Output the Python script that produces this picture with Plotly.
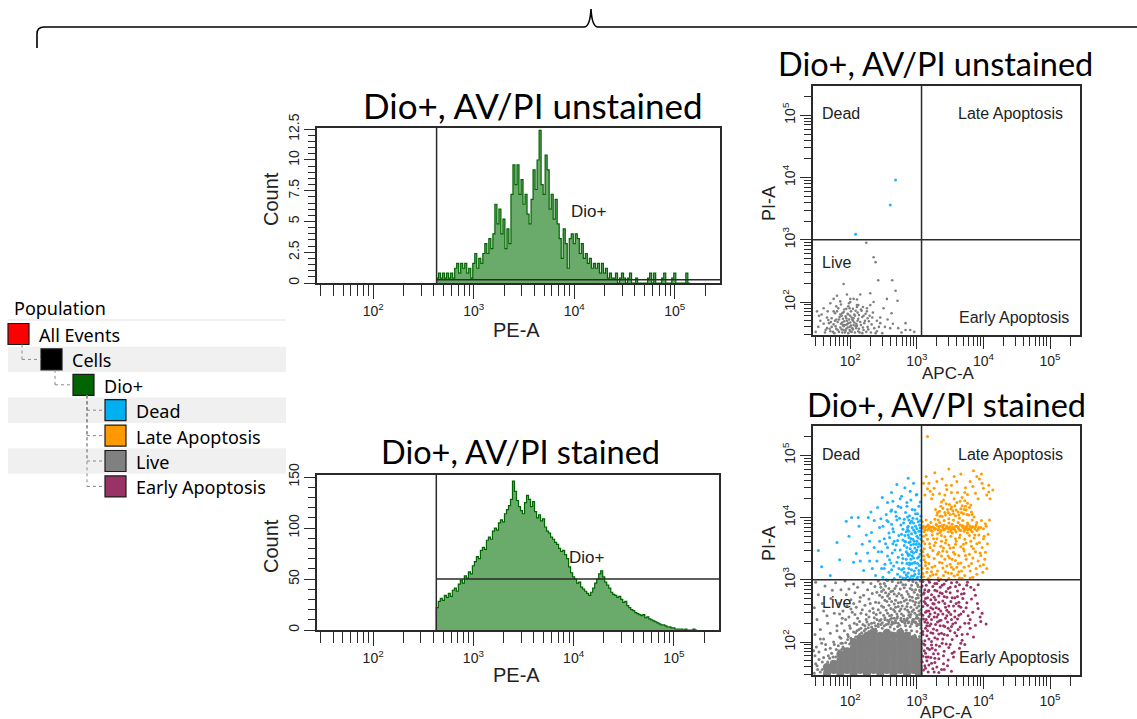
import math
import plotly.graph_objects as go

W, H = 1137, 719


def PX(x):
    return x / W


def PY(y):
    return 1 - y / H


# ---------------- data ----------------
HIST_START = 2.63          # log10 of first histogram bin edge (PE-A)
HIST_STEP = 0.02           # bin width in log10 units
HIST_GATE = 2.63           # log10 position of the Dio+ gate
UNSTAINED_GATE_Y = 0.27
STAINED_GATE_Y = 50
QUAD_X = 3.07              # log10 APC-A quadrant split
QUAD_Y = 3.0               # log10 PI-A quadrant split

unstained_counts = [
    0.4, 0.8, 0.4, 0.8, 0.4, 0.8, 0.4, 0.8, 0.4, 1.2, 1.6, 0.8, 1.6, 1.2, 1.6, 0.8,
    1.2, 0.4, 1.6, 2.4, 1.2, 2.0, 1.6, 2.4, 3.2, 2.4, 3.6, 2.8, 4.0, 6.4, 4.8, 6.0,
    4.0, 5.2, 2.8, 4.4, 3.2, 7.2, 9.6, 8.0, 9.6, 7.2, 8.4, 6.4, 7.2, 5.6, 4.8, 6.8,
    9.2, 7.6, 10.0, 12.4, 8.0, 7.2, 10.4, 9.2, 6.0, 7.2, 5.2, 6.8, 4.8, 3.6, 2.0, 4.4,
    3.2, 1.2, 3.6, 4.0, 3.2, 4.0, 3.6, 2.4, 3.2, 2.0, 2.4, 1.6, 2.0, 1.2, 1.6, 1.2,
    1.6, 0.8, 1.6, 0.8, 1.2, 0.4, 0.8, 0.4, 0.4, 0.8, 0.0, 0.4, 0.8, 0.4, 0.0, 0.4,
    0.8, 0.0, 0.0, 0.4, 0.0, 0.0, 0.0, 0.0, 0.0, 0.4, 0.8, 0.0, 0.8, 0.0, 0.0, 0.0,
    0.4, 0.8, 0.0, 0.0, 0.0, 0.4, 0.8, 0.0, 0.0, 0.0, 0.0, 0.0, 0.8, 0.0,
]

stained_counts = [
    22, 28, 31, 29, 34, 32, 36, 33, 39, 41, 38, 45, 49, 46, 53, 51, 57, 55, 63, 67,
    72, 70, 78, 81, 79, 88, 91, 89, 97, 100, 98, 105, 108, 106, 114, 118, 122, 128, 146, 136,
    127, 121, 117, 114, 125, 132, 128, 121, 126, 116, 110, 113, 107, 109, 101, 97, 95, 91, 89, 86,
    84, 80, 77, 78, 74, 70, 62, 56, 52, 50, 46, 47, 42, 40, 38, 36, 34, 37, 41, 46,
    50, 55, 58, 52, 47, 44, 41, 37, 35, 34, 32, 33, 30, 27, 28, 24, 22, 20, 19, 17,
    16, 15, 14, 15, 12, 13, 11, 10, 9, 8, 7, 6, 5, 5, 4, 3, 3, 2, 2, 1,
    1, 1, 1, 0, 1, 0, 0, 0, 1, 0,
]

# scatter events, (log10 APC-A x100, log10 PI-A x100)
top_live = [
    (224, 295), (235, 272), (238, 264), (242, 235), (263, 235), (268, 218), (271, 202), (190, 229),
    (230, 214), (215, 212), (180, 210), (200, 200), (170, 198), (160, 190), (150, 185), (255, 205),
    (250, 190), (262, 182), (245, 175), (272, 158), (283, 166), (290, 155), (260, 158), (248, 150),
    (210, 195), (225, 190), (235, 200), (205, 205), (175, 185), (155, 170), (152, 160), (165, 175),
    (162, 151), (170, 153), (176, 150), (183, 152), (188, 151), (193, 154), (197, 150), (202, 152),
    (207, 151), (212, 153), (218, 150), (224, 152), (231, 151), (240, 153),
    (165, 158), (172, 160), (179, 157), (185, 159), (190, 161), (194, 157), (199, 160), (203, 158),
    (208, 161), (213, 157), (219, 159), (226, 160), (236, 158),
    (168, 166), (175, 164), (181, 168), (186, 165), (191, 169), (195, 164), (200, 167), (204, 170),
    (209, 165), (215, 168), (221, 166), (228, 169),
    (172, 174), (179, 172), (184, 176), (189, 173), (193, 177), (198, 172), (202, 175), (207, 178),
    (212, 173), (218, 176), (226, 174),
    (177, 182), (185, 180), (190, 184), (196, 181), (201, 185), (206, 180), (211, 183), (217, 186),
    (223, 181), (182, 190), (191, 188), (197, 193), (204, 189), (210, 192), (216, 188), (198, 198),
    (186, 196), (192, 163), (197, 166), (201, 162), (195, 170), (199, 155), (205, 163), (190, 155),
    (188, 167), (203, 172), (209, 158), (296, 152), (283, 155), (277, 151),
    (163, 155), (169, 157), (174, 152), (178, 161), (181, 155), (187, 156), (189, 163), (192, 151),
    (196, 159), (200, 153), (204, 156), (206, 167), (210, 162), (214, 151), (216, 163), (220, 155),
    (222, 170), (227, 156), (232, 164), (238, 150), (243, 160), (167, 171), (171, 168), (177, 170),
    (183, 172), (187, 178), (194, 174), (197, 180), (200, 178), (205, 174), (211, 170), (213, 179),
    (220, 178), (225, 185), (229, 178), (234, 183), (180, 185), (188, 182), (194, 189), (199, 190),
    (208, 186), (212, 195), (219, 192), (179, 193), (185, 201), (200, 205), (195, 212), (240, 170),
    (245, 166), (256, 172), (264, 165), (252, 160), (233, 175), (210, 204), (230, 195), (175, 205),
    (160, 165), (157, 180), (166, 185), (148, 152), (153, 178),
]
top_dead = [(268, 396), (260, 356), (208, 309)]

bottom_live_core = [
    (165, 150), (165, 160), (175, 155), (175, 165),
    (185, 150), (185, 160), (185, 170), (185, 180),
    (195, 155), (195, 165), (195, 175), (195, 185),
    (205, 150), (205, 160), (205, 170), (205, 180), (205, 190), (205, 200),
    (215, 155), (215, 165), (215, 175), (215, 185), (215, 195), (215, 205),
    (225, 150), (225, 160), (225, 170), (225, 180), (225, 190), (225, 200), (225, 210),
    (235, 155), (235, 165), (235, 175), (235, 185), (235, 195), (235, 205), (235, 215),
    (245, 150), (245, 160), (245, 170), (245, 180), (245, 190), (245, 200), (245, 210),
    (255, 155), (255, 165), (255, 175), (255, 185), (255, 195), (255, 205), (255, 215),
    (265, 150), (265, 160), (265, 170), (265, 180), (265, 190), (265, 200), (265, 210),
    (275, 155), (275, 165), (275, 175), (275, 185), (275, 195), (275, 205), (275, 215),
    (285, 150), (285, 160), (285, 170), (285, 180), (285, 190), (285, 200), (285, 210),
    (295, 155), (295, 165), (295, 175), (295, 185), (295, 195), (295, 205),
    (303, 150), (303, 160), (303, 170), (303, 180), (303, 190), (303, 200),
]
bottom_live = [
    (242, 298), (251, 294), (263, 297), (276, 296), (288, 299), (299, 295), (305, 298),
    (246, 288), (258, 286), (269, 290), (281, 287), (292, 291), (302, 289),
    (240, 280), (253, 279), (264, 282), (273, 278), (285, 281), (296, 280), (304, 283),
    (248, 272), (259, 270), (270, 274), (279, 271), (289, 273), (299, 270), (306, 275),
    (243, 263), (255, 265), (266, 261), (276, 264), (286, 262), (294, 266), (303, 263),
    (250, 256), (261, 254), (272, 257), (282, 253), (291, 256), (300, 255), (306, 252),
    (245, 247), (256, 246), (267, 249), (277, 245), (288, 248), (297, 246), (304, 244),
    (252, 239), (262, 238), (271, 241), (281, 237), (290, 240), (299, 238), (306, 236),
    (248, 231), (258, 232), (268, 234), (279, 233), (287, 231), (296, 232), (305, 230),
    (258, 277), (284, 268), (268, 267), (293, 284), (247, 281), (301, 276), (274, 250), (262, 243),
    (288, 243), (297, 260), (279, 292), (253, 290), (265, 230), (283, 226), (299, 230), (276, 238),
    (192, 298), (205, 293), (219, 296), (231, 294), (198, 285), (211, 288), (226, 284), (237, 289),
    (194, 276), (207, 279), (220, 275), (233, 278), (201, 268), (214, 265), (228, 269), (238, 264),
    (195, 258), (209, 256), (222, 259), (234, 254), (203, 248), (216, 246), (229, 250), (239, 244),
    (198, 240), (211, 238), (224, 236), (236, 239), (206, 230), (219, 228), (232, 230),
    (200, 222), (213, 220), (227, 223), (238, 226), (196, 212), (208, 215), (221, 218), (234, 221),
    (215, 272), (230, 262), (205, 262), (224, 244), (189, 250),
    (148, 296), (162, 290), (178, 295), (186, 284), (152, 276), (171, 270), (183, 262),
    (146, 255), (160, 250), (176, 246), (188, 238), (150, 236), (166, 230), (180, 226),
    (155, 220), (170, 214), (184, 208), (147, 212), (160, 205), (175, 200), (188, 198),
    (158, 262), (173, 283), (165, 242),
    (146, 150), (151, 156), (148, 165), (155, 152), (158, 168), (147, 178), (153, 184), (160, 175),
    (163, 188), (149, 192), (157, 198), (167, 178), (170, 190), (172, 182), (176, 196), (179, 188),
    (182, 194), (186, 198), (189, 192), (193, 199), (196, 204), (199, 197), (153, 172), (161, 160),
    (145, 186), (166, 168), (169, 174), (155, 205), (163, 196), (178, 176), (183, 186), (150, 162),
    (158, 156), (174, 176), (190, 190), (201, 206), (187, 188), (171, 160),
    (202, 204), (208, 208), (214, 212), (218, 210), (224, 214), (228, 217), (232, 219), (238, 221),
    (242, 225), (246, 228), (251, 226), (257, 229), (262, 228), (268, 231), (272, 230), (278, 233),
    (283, 234), (288, 232), (293, 233), (298, 232), (302, 228), (306, 227),
    (210, 218), (216, 222), (222, 226), (228, 228), (236, 231), (244, 234), (252, 236), (260, 236),
    (270, 238), (286, 238), (294, 236), (300, 240), (304, 234),
    (245, 293), (256, 299), (267, 286), (272, 295), (283, 292), (294, 297), (301, 292), (306, 288),
    (250, 284), (261, 281), (275, 285), (290, 286), (298, 284), (305, 281),
    (244, 275), (256, 274), (266, 277), (277, 275), (287, 277), (293, 272), (302, 271),
    (252, 267), (262, 265), (272, 263), (281, 266), (290, 267), (298, 264), (306, 266),
    (247, 258), (258, 259), (268, 256), (278, 258), (285, 257), (295, 252), (303, 258),
    (242, 252), (254, 251), (265, 252), (276, 253), (286, 251), (293, 249), (303, 250),
    (250, 243), (259, 242), (270, 245), (280, 242), (291, 244), (300, 243), (306, 246),
    (246, 236), (256, 235), (266, 238), (276, 235), (285, 235), (295, 236), (302, 238),
    (242, 229), (254, 228), (263, 232), (274, 227), (282, 230), (292, 229), (300, 226),
    (260, 224), (271, 225), (290, 225), (306, 222),
    (184, 245), (193, 236), (207, 244), (214, 233), (228, 240), (235, 247), (218, 252), (201, 253),
    (187, 230), (199, 226), (210, 228), (225, 232), (232, 224), (240, 236), (191, 218), (205, 216),
    (217, 215), (229, 214), (239, 218), (180, 218), (186, 206), (197, 209), (211, 209), (223, 221),
    (248, 222), (256, 219), (266, 221), (276, 221), (284, 219), (292, 218), (300, 217), (306, 214),
    (252, 213), (262, 215), (272, 214), (281, 212), (289, 214), (297, 211), (304, 209),
]
bottom_dead = [
    (152, 347), (157, 321), (170, 307), (194, 394), (202, 400), (212, 400), (205, 328), (220, 315),
    (238, 307), (213, 386), (218, 357), (227, 400), (241, 416), (256, 424), (270, 453), (287, 463),
    (290, 442), (180, 360), (232, 376), (246, 398), (198, 370), (226, 343), (184, 332), (262, 440),
    (275, 430), (248, 432), (236, 352), (209, 342), (229, 362), (244, 384), (261, 410), (282, 448),
    (295, 455), (300, 437), (272, 418), (285, 424),
    (249, 304), (258, 312), (266, 302), (271, 309), (277, 316), (283, 303), (287, 311), (292, 306),
    (296, 314), (300, 302), (303, 310), (306, 305), (280, 318), (262, 316), (294, 301), (254, 300),
    (252, 325), (259, 332), (265, 322), (272, 336), (278, 327), (284, 333), (289, 324), (293, 338),
    (297, 328), (301, 335), (304, 323), (306, 331), (270, 328), (287, 339),
    (247, 345), (256, 352), (263, 343), (269, 356), (275, 348), (281, 355), (286, 342), (290, 350),
    (295, 357), (299, 345), (302, 353), (305, 341), (278, 340), (293, 345), (264, 358),
    (251, 366), (258, 375), (266, 362), (273, 371), (279, 364), (284, 377), (288, 368), (292, 374),
    (296, 362), (300, 370), (303, 378), (306, 365), (282, 371), (297, 377), (290, 361), (305, 372),
    (249, 386), (257, 393), (264, 382), (270, 396), (276, 388), (281, 397), (286, 384), (290, 391),
    (294, 399), (298, 386), (302, 393), (305, 383), (288, 396), (295, 380), (279, 381), (300, 398),
    (254, 405), (262, 412), (269, 402), (276, 416), (283, 408), (289, 403), (293, 413), (298, 406),
    (303, 418), (306, 402), (285, 418), (264, 426), (277, 434), (291, 428), (299, 436), (305, 425),
    (285, 352), (291, 356), (297, 351), (303, 358), (288, 360), (294, 365), (300, 362), (306, 355),
    (286, 380), (298, 375), (293, 384), (304, 388), (292, 345), (300, 382), (287, 372),
    (285, 326), (289, 327), (293, 326), (297, 327), (301, 326),
    (275, 305), (279, 303), (284, 308), (290, 302), (295, 306), (301, 304),
    (251, 318), (256, 338), (261, 327), (267, 348), (273, 318), (279, 334), (284, 345), (288, 318),
    (291, 333), (295, 343), (299, 319), (303, 337), (306, 347),
    (253, 358), (259, 368), (265, 377), (271, 363), (277, 373), (283, 361), (287, 386), (291, 366),
    (295, 391), (299, 357), (302, 367), (306, 378),
    (255, 395), (262, 389), (268, 409), (274, 399), (280, 391), (286, 401), (292, 394), (297, 412),
    (301, 406), (305, 395),
    (244, 362), (240, 330), (236, 395), (247, 318), (233, 318), (242, 345), (229, 330), (224, 372),
    (215, 330), (231, 409), (281, 312), (286, 305), (292, 316), (297, 309), (303, 315), (289, 340),
    (295, 335), (300, 348), (282, 362), (288, 378),
]
bottom_late = [
    (309, 383), (312, 380), (315, 386), (318, 382), (321, 379), (324, 385), (327, 381), (330, 387),
    (333, 383), (336, 379), (339, 384), (342, 381), (345, 386), (348, 382), (351, 378), (354, 384),
    (357, 380), (360, 386), (363, 382), (366, 379), (369, 384), (372, 381), (375, 386), (378, 382),
    (381, 380), (384, 385), (387, 382), (390, 379), (393, 384),
    (311, 377), (317, 388), (323, 378), (329, 389), (335, 376), (341, 388), (347, 377), (353, 389),
    (359, 377), (365, 388), (371, 378), (377, 389), (383, 377), (389, 388),
    (313, 384), (319, 385), (326, 383), (332, 380), (338, 387), (344, 383), (350, 385), (356, 382),
    (362, 384), (368, 387), (374, 383), (380, 386),
    (310, 386), (316, 380), (322, 384), (328, 382), (334, 386), (340, 380), (346, 384), (352, 381),
    (358, 386), (364, 380), (370, 386), (376, 380), (382, 384), (388, 385), (392, 381), (396, 384),
    (400, 382), (404, 386),
    (330, 404), (334, 410), (338, 402), (342, 408), (346, 413), (350, 405), (354, 411), (358, 403),
    (362, 409), (366, 414), (370, 406), (374, 412), (378, 404), (382, 409), (336, 418), (344, 422),
    (352, 417), (360, 424), (368, 419), (376, 423), (340, 428), (356, 430), (372, 427), (348, 398),
    (364, 399), (332, 396), (386, 401), (328, 413),
    (331, 408), (335, 402), (339, 415), (343, 404), (347, 408), (351, 414), (355, 406), (359, 412),
    (363, 404), (367, 408), (371, 413), (375, 405), (379, 416), (383, 405), (337, 425), (349, 421),
    (357, 419), (365, 426), (373, 418), (381, 420),
    (312, 436), (320, 442), (318, 455), (326, 447), (334, 438), (338, 462), (345, 445), (352, 452),
    (361, 440), (366, 470), (373, 448), (380, 458), (388, 439), (394, 462), (400, 447), (408, 452),
    (405, 436), (314, 466), (327, 472), (356, 466), (348, 478), (385, 475), (397, 470), (322, 430),
    (392, 430), (310, 455), (342, 436), (376, 437), (316, 530),
    (316, 446), (330, 458), (344, 452), (360, 458), (372, 440), (384, 450), (398, 455), (408, 441),
    (390, 466), (324, 437), (352, 440), (368, 432), (410, 430), (414, 444),
    (308, 393), (314, 396), (321, 392), (327, 397), (334, 392), (341, 395), (348, 391), (355, 396),
    (362, 392), (369, 395), (376, 391), (383, 396), (390, 392), (397, 395), (403, 390), (409, 396),
    (310, 370), (316, 365), (323, 372), (330, 366), (337, 371), (344, 364), (351, 370), (358, 366),
    (365, 372), (372, 365), (379, 371), (386, 367), (393, 372), (400, 366), (407, 373),
    (312, 358), (320, 352), (328, 360), (336, 354), (343, 359), (350, 351), (358, 357), (366, 353),
    (374, 359), (382, 354), (390, 358), (398, 352),
    (309, 362), (314, 372), (319, 358), (325, 366), (331, 374), (337, 362), (342, 369), (348, 356),
    (353, 375), (359, 362), (364, 368), (370, 357), (376, 375), (381, 362), (387, 372), (394, 360),
    (401, 370), (406, 358), (311, 350), (326, 355), (340, 351), (355, 352), (370, 350), (385, 350),
    (309, 345), (316, 340), (324, 347), (331, 341), (339, 346), (347, 338), (355, 344), (363, 339),
    (371, 346), (379, 341), (388, 345), (396, 339), (403, 344),
    (311, 332), (318, 326), (326, 334), (334, 328), (342, 333), (350, 325), (358, 331), (366, 327),
    (374, 333), (382, 326), (392, 330), (400, 324),
    (308, 318), (315, 312), (323, 320), (331, 314), (339, 319), (347, 311), (355, 317), (363, 313),
    (371, 320), (380, 314), (389, 318), (399, 312),
    (310, 305), (317, 302), (324, 308), (332, 303), (340, 307), (348, 302), (356, 306), (364, 303),
    (372, 307), (384, 304), (313, 323), (329, 309), (345, 322), (361, 308), (337, 338), (353, 333),
    (309, 310), (313, 328), (318, 337), (322, 313), (327, 322), (333, 344), (338, 327), (343, 313),
    (349, 335), (352, 320), (357, 341), (362, 326), (367, 314), (373, 339), (378, 322), (384, 335),
    (390, 309), (395, 322), (402, 333), (310, 338), (320, 306), (336, 301), (352, 310), (368, 302),
    (380, 303), (395, 343), (405, 318), (316, 318), (345, 345), (360, 320),
]
bottom_early = [
    (309, 297), (314, 291), (319, 296), (324, 289), (330, 294), (335, 288), (341, 293), (347, 286),
    (352, 295), (358, 289), (364, 292), (370, 285), (375, 291), (312, 284), (327, 283), (344, 281),
    (361, 282), (381, 288),
    (310, 277), (316, 271), (322, 276), (328, 268), (333, 274), (339, 266), (345, 272), (351, 265),
    (357, 271), (363, 264), (369, 270), (375, 263), (382, 269), (313, 262), (326, 261), (338, 278),
    (350, 279), (367, 277), (388, 275),
    (309, 257), (315, 250), (321, 255), (327, 247), (333, 253), (339, 245), (345, 251), (351, 244),
    (357, 250), (363, 243), (370, 249), (377, 242), (384, 248), (392, 254), (318, 241), (330, 240),
    (348, 258), (366, 256), (398, 246),
    (310, 237), (316, 231), (322, 236), (328, 228), (334, 234), (340, 226), (346, 232), (352, 225),
    (358, 231), (365, 224), (372, 230), (380, 236), (388, 227), (396, 233), (404, 229), (313, 222),
    (325, 221), (343, 238), (361, 237),
    (309, 217), (315, 210), (321, 215), (327, 207), (333, 213), (339, 205), (346, 211), (353, 204),
    (360, 210), (368, 203), (376, 213), (385, 208), (312, 202), (330, 219), (350, 218),
    (310, 197), (316, 190), (322, 195), (328, 187), (334, 193), (341, 185), (348, 191), (356, 184),
    (364, 190), (372, 196), (313, 182), (325, 181), (338, 198),
    (309, 177), (315, 170), (321, 175), (327, 167), (333, 173), (340, 165), (347, 171), (355, 176),
    (312, 162), (330, 160), (318, 163),
    (310, 155), (317, 152), (324, 157), (333, 151), (341, 156), (352, 153),
    (311, 265), (318, 283), (320, 245), (324, 262), (331, 232), (335, 279), (313, 248), (316, 218),
    (322, 201), (329, 255), (337, 214), (342, 262), (314, 236), (326, 272), (319, 226),
    (308, 290), (311, 279), (313, 270), (316, 259), (318, 250), (309, 243), (312, 232), (315, 226),
    (309, 212), (312, 195), (311, 186), (308, 168), (313, 158), (317, 281), (321, 268), (324, 253),
    (326, 240), (321, 229), (324, 214), (318, 205), (319, 188), (317, 176), (322, 166), (327, 294),
    (330, 282), (333, 264), (336, 250), (332, 244), (335, 226), (331, 205), (329, 195), (332, 181),
    (327, 174), (338, 291), (341, 273), (343, 256), (345, 242), (347, 222), (341, 212), (344, 197),
    (340, 178), (350, 288), (353, 271), (355, 258), (357, 240), (354, 229), (357, 215), (350, 196),
    (353, 182), (361, 273), (363, 258), (366, 245), (362, 220), (366, 198), (371, 278), (374, 255),
    (378, 230), (368, 212), (386, 284), (391, 262), (395, 240), (380, 222), (360, 296), (344, 299),
    (333, 299), (318, 299), (376, 296), (392, 292), (346, 162), (337, 156), (326, 152), (314, 176),
    (323, 190), (336, 235), (348, 248), (359, 262), (352, 236), (342, 225),
]

DECADES = [2, 3, 4, 5]
DECADE_TEXT = ["10<sup>2</sup>", "10<sup>3</sup>", "10<sup>4</sup>", "10<sup>5</sup>"]

populations = [
    ("All Events", "#ff0000", 0),
    ("Cells", "#000000", 1),
    ("Dio+", "#006400", 2),
    ("Dead", "#00b0f0", 3),
    ("Late Apoptosis", "#ff9900", 3),
    ("Live", "#808080", 3),
    ("Early Apoptosis", "#993366", 3),
]

# ---------------- styling ----------------
BOX = "#2a2a2a"
TXT = "#222222"
TICKFONT = dict(family="Liberation Sans, Arial", size=14, color=TXT)
LABFONT = "Liberation Sans, Arial"
TITLEFONT = "Lato, Open Sans, sans-serif"
C_DEAD, C_LATE, C_LIVE, C_EARLY = "#1eb4ff", "#ff9c00", "#808080", "#993366"
HIST_LINE, HIST_FILL = "#006400", "#6aaa6a"

X_RANGE = [1.44, 5.45]
Y_RANGE_SC = [1.47, 5.47]

minor_log = [m * 10 ** d for d in range(1, 6) for m in range(2, 10)
             if X_RANGE[0] < d + math.log10(m) < X_RANGE[1]]

fig = go.Figure()


def to_lin(v):
    return 10 ** (v / 100)


def hist_trace(counts, ax):
    xs = [10 ** HIST_START]
    ys = [0]
    for i, c in enumerate(counts):
        xs.append(10 ** (HIST_START + i * HIST_STEP))
        ys.append(c)
    end = 10 ** (HIST_START + len(counts) * HIST_STEP)
    xs += [end, end]
    ys += [counts[-1], 0]
    return go.Scatter(x=xs, y=ys, mode="lines", xaxis="x" + ax, yaxis="y" + ax,
                      line=dict(color=HIST_LINE, width=1.2, shape="hv"),
                      fill="tozeroy", fillcolor=HIST_FILL, hoverinfo="skip")


def line_trace(xs, ys, ax):
    return go.Scatter(x=xs, y=ys, mode="lines", xaxis="x" + ax, yaxis="y" + ax,
                      line=dict(color=BOX, width=1.5), hoverinfo="skip")


def dots(pts, color, ax, size=3):
    return go.Scatter(x=[to_lin(p[0]) for p in pts], y=[to_lin(p[1]) for p in pts],
                      mode="markers", xaxis="x" + ax, yaxis="y" + ax,
                      marker=dict(color=color, size=size, line=dict(width=0)),
                      hoverinfo="skip")


# histograms
fig.add_trace(hist_trace(unstained_counts, ""))
fig.add_trace(hist_trace(stained_counts, "2"))
xr_hi = 10 ** X_RANGE[1]
g = 10 ** HIST_GATE
fig.add_trace(line_trace([g, g], [0, 12.6], ""))
fig.add_trace(line_trace([g, xr_hi], [UNSTAINED_GATE_Y, UNSTAINED_GATE_Y], ""))
fig.add_trace(line_trace([g, g], [0, 152], "2"))
fig.add_trace(line_trace([g, xr_hi], [STAINED_GATE_Y, STAINED_GATE_Y], "2"))

# scatter plots
fig.add_trace(dots(top_live, C_LIVE, "3", size=2.6))
fig.add_trace(dots(top_dead, C_DEAD, "3"))
fig.add_trace(dots(bottom_live_core, C_LIVE, "4", size=8))
fig.add_trace(dots(bottom_live, C_LIVE, "4"))
fig.add_trace(dots(bottom_dead, C_DEAD, "4"))
fig.add_trace(dots(bottom_late, C_LATE, "4"))
fig.add_trace(dots(bottom_early, C_EARLY, "4"))
for ax in ("3", "4"):
    qx, qy = 10 ** QUAD_X, 10 ** QUAD_Y
    fig.add_trace(line_trace([qx, qx], [10 ** Y_RANGE_SC[0], 10 ** Y_RANGE_SC[1]], ax))
    fig.add_trace(line_trace([10 ** X_RANGE[0], 10 ** X_RANGE[1]], [qy, qy], ax))


def xaxis_cfg(dom, anchor, ticklen):
    return dict(domain=[PX(dom[0]), PX(dom[1])], anchor=anchor, type="log", range=X_RANGE,
                automargin=False,
                showline=True, mirror=True, linecolor=BOX, linewidth=1.5,
                ticks="outside", ticklen=ticklen, tickwidth=1.4, tickcolor=BOX,
                tickvals=[10 ** d for d in DECADES], ticktext=DECADE_TEXT, tickfont=TICKFONT,
                minor=dict(tickmode="array", tickvals=minor_log, ticks="outside",
                           ticklen=ticklen - 3, tickwidth=1.2, tickcolor=BOX),
                showgrid=False, zeroline=False, fixedrange=True)


def yaxis_lin(dom, anchor, rng, vals, text, minor_dtick):
    return dict(domain=[PY(dom[1]), PY(dom[0])], anchor=anchor, range=rng, automargin=False,
                showline=True, mirror=True, linecolor=BOX, linewidth=1.5,
                ticks="outside", ticklen=11, tickwidth=1.4, tickcolor=BOX,
                tickvals=vals, ticktext=text, tickangle=-90, tickfont=TICKFONT,
                minor=dict(dtick=minor_dtick, ticks="outside", ticklen=7, tickwidth=1.2,
                           tickcolor=BOX),
                showgrid=False, zeroline=False, fixedrange=True)


def yaxis_log(dom, anchor):
    return dict(domain=[PY(dom[1]), PY(dom[0])], anchor=anchor, type="log", range=Y_RANGE_SC,
                automargin=False,
                showline=True, mirror=True, linecolor=BOX, linewidth=1.5,
                ticks="outside", ticklen=11, tickwidth=1.4, tickcolor=BOX,
                tickvals=[10 ** d for d in DECADES], ticktext=DECADE_TEXT, tickangle=-90,
                tickfont=TICKFONT,
                minor=dict(tickmode="array", tickvals=minor_log, ticks="outside",
                           ticklen=7, tickwidth=1.2, tickcolor=BOX),
                showgrid=False, zeroline=False, fixedrange=True)


fig.update_layout(
    width=W, height=H, margin=dict(l=0, r=0, t=0, b=0, pad=0, autoexpand=False),
    paper_bgcolor="white", plot_bgcolor="white", showlegend=False,
    xaxis=xaxis_cfg((317, 720), "y", 14),
    yaxis=yaxis_lin((128, 283), "x", [0, 12.6], [0, 2.5, 5, 7.5, 10, 12.5],
                    ["0", "2.5", "5", "7.5", "10", "12.5"], 0.5),
    xaxis2=xaxis_cfg((317, 719), "y2", 14),
    yaxis2=yaxis_lin((475, 630), "x2", [0, 152], [0, 50, 100, 150],
                     ["0", "50", "100", "150"], 10),
    xaxis3=xaxis_cfg((813, 1080), "y3", 12),
    yaxis3=yaxis_log((86, 335), "x3"),
    xaxis4=xaxis_cfg((813, 1080), "y4", 12),
    yaxis4=yaxis_log((426, 675), "x4"),
)

ann = []


def text(s, x, y, size, family=LABFONT, color=TXT, xanchor="center", angle=0):
    ann.append(dict(text=s, x=PX(x), y=PY(y), xref="paper", yref="paper", showarrow=False,
                    xanchor=xanchor, yanchor="middle", textangle=angle,
                    font=dict(family=family, size=size, color=color)))


# titles
text("Dio+, AV/PI unstained", 533, 105, 35, TITLEFONT, "#000")
text("Dio+, AV/PI stained", 520, 452, 32.5, TITLEFONT, "#000")
text("Dio+, AV/PI unstained", 935, 64, 32.5, TITLEFONT, "#000")
text("Dio+, AV/PI stained", 946, 404, 32.5, TITLEFONT, "#000")

# histogram labels
text("Dio+", 589, 211, 17)
text("Dio+", 587, 557, 17)
text("PE-A", 516, 330, 20)
text("PE-A", 516, 675, 20)
text("Count", 271, 199, 20, angle=-90)
text("Count", 271, 546, 20, angle=-90)

# scatter labels
for off in (0, 340):
    text("Dead", 820, 114 + off, 16, xanchor="left")
    text("Late Apoptosis", 1010, 114 + off, 16)
    text("Live", 820, 262 + off, 16, xanchor="left")
    text("Early Apoptosis", 1014, 317 + off, 16)
    text("PI-A", 769, 204 + off, 18, angle=-90)
text("APC-A", 948, 373, 17)
text("APC-A", 946, 712, 17)

# population tree
shapes = []
ROW0, ROWH = 334, 25.4
SQ_LEFT = [8, 41, 73, 105]
SQ = 21
text("Population", 12, 308, 18, "Noto Sans, Liberation Sans", "#000", xanchor="left")
shapes.append(dict(type="line", xref="paper", yref="paper", x0=PX(8), x1=PX(286),
                   y0=PY(320), y1=PY(320), line=dict(color="#e3e3e3", width=1)))
for i, (name, col, lvl) in enumerate(populations):
    yc = ROW0 + i * ROWH
    if i % 2 == 1:
        shapes.append(dict(type="rect", xref="paper", yref="paper", layer="below",
                           x0=PX(8), x1=PX(286), y0=PY(yc - ROWH / 2), y1=PY(yc + ROWH / 2),
                           fillcolor="#f0f0f0", line=dict(width=0)))
    xl = SQ_LEFT[lvl]
    shapes.append(dict(type="rect", xref="paper", yref="paper",
                       x0=PX(xl), x1=PX(xl + SQ), y0=PY(yc - SQ / 2), y1=PY(yc + SQ / 2),
                       fillcolor=col, line=dict(color="#1a1a1a", width=1.2)))
    text(name, xl + SQ + 8, yc + 1, 18, "Noto Sans, Liberation Sans", "#000", xanchor="left")
    if lvl > 0:
        parent = max(j for j in range(i) if populations[j][2] == lvl - 1)
        px_c = SQ_LEFT[lvl - 1] + 14
        py_top = ROW0 + parent * ROWH + SQ / 2
        shapes.append(dict(type="line", xref="paper", yref="paper", x0=PX(px_c), x1=PX(px_c),
                           y0=PY(py_top), y1=PY(yc), line=dict(color="#8a8a8a", width=1, dash="dot")))
        shapes.append(dict(type="line", xref="paper", yref="paper", x0=PX(px_c), x1=PX(xl),
                           y0=PY(yc), y1=PY(yc), line=dict(color="#8a8a8a", width=1, dash="dot")))

# brace across the top
pts = [("M", 37, 48), ("L", 37, 34), ("Q", 37, 27, 44, 27), ("L", 584, 27),
       ("Q", 590, 27, 591, 9), ("Q", 592, 27, 598, 27), ("L", 1137, 27)]
path = ""
for p in pts:
    cmd, coords = p[0], p[1:]
    path += cmd + " " + " ".join(
        f"{PX(coords[k]):.5f},{PY(coords[k + 1]):.5f}" for k in range(0, len(coords), 2)) + " "
shapes.append(dict(type="path", xref="paper", yref="paper", path=path.strip(),
                   line=dict(color="#000", width=1.6)))

fig.update_layout(annotations=ann, shapes=shapes)
fig.write_html(
    "out.html",
    config={"displayModeBar": False},
    post_script="document.body.style.margin='0px';document.body.style.overflow='hidden';",
)
